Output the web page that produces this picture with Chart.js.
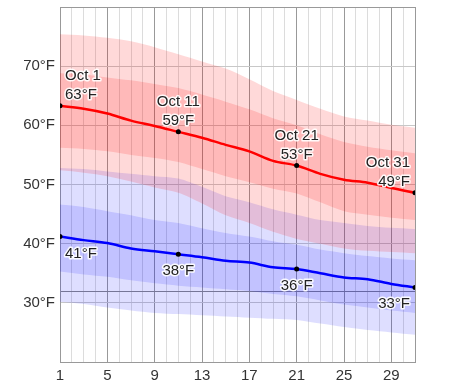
<!DOCTYPE html>
<html lang="en">
<head>
<meta charset="UTF-8">
<title>October temperatures</title>
<script src="https://cdn.jsdelivr.net/npm/chart.js"></script>
<style>
    body { margin: 0; background: #fff; }
    #wrap { width: 474px; height: 389px; }
</style>
</head>
<body>
<div id="wrap"><canvas id="grafico" width="474" height="389"></canvas></div>
<script>
// days of October that the values below were read at
const days = [1, 3, 5, 7, 9, 11, 13, 15, 17, 19, 21, 23, 25, 27, 29, 31];

// average daily high / low (°F)
const highAvg = [63.3, 62.8, 62.0, 60.8, 59.9, 58.9, 57.9, 56.7, 55.6, 54.0, 53.2, 51.8, 50.8, 50.3, 49.4, 48.6];
const lowAvg  = [41.2, 40.6, 40.1, 39.2, 38.7, 38.2, 37.7, 37.1, 36.8, 36.0, 35.7, 35.0, 34.3, 34.0, 33.2, 32.6];

// percentile bands of the daily high
const high90 = [75.4, 75.2, 74.8, 74.2, 73.2, 72.0, 70.8, 69.6, 67.8, 65.8, 64.3, 62.8, 61.5, 60.8, 60.1, 59.6];
const high75 = [68.8, 68.6, 68.1, 67.6, 67.0, 66.3, 65.2, 64.0, 62.7, 61.2, 60.0, 58.5, 57.2, 56.4, 55.8, 55.3];
const high25 = [56.2, 56.0, 55.6, 55.0, 54.5, 53.8, 52.6, 51.4, 50.4, 49.3, 48.5, 47.0, 45.5, 44.9, 44.4, 44.0];
const high10 = [52.4, 52.0, 51.4, 50.5, 49.5, 48.6, 46.8, 44.8, 43.5, 42.0, 40.8, 40.0, 39.2, 38.8, 38.6, 38.4];

// percentile bands of the daily low
const low90 = [52.8, 52.6, 52.2, 51.8, 51.4, 51.0, 49.6, 48.0, 47.0, 45.8, 44.9, 44.0, 43.5, 43.0, 42.7, 42.5];
const low75 = [46.6, 46.2, 45.5, 44.8, 44.0, 43.5, 42.6, 41.8, 41.2, 40.4, 39.8, 39.0, 38.4, 37.9, 37.5, 37.2];
const low25 = [35.3, 34.8, 34.4, 33.8, 33.3, 32.9, 32.6, 32.3, 32.0, 31.5, 31.1, 30.4, 29.7, 29.2, 28.7, 28.3];
const low10 = [30.2, 29.8, 29.2, 28.7, 28.3, 28.1, 27.9, 27.7, 27.5, 27.3, 27.1, 26.5, 25.9, 25.4, 25.0, 24.6];

// axis
const xTicks = [1, 5, 9, 13, 17, 21, 25, 29];
const yTicks = [30, 40, 50, 60, 70];
const freezing = 32;
const labelDays = [1, 11, 21, 31];
const monthName = 'Oct';

const FONT = '"Liberation Sans", Arial, sans-serif';

function pontos(valores) {
    return days.map((d, i) => ({ x: d, y: valores[i] }));
}

function raioPonto(ctx) {
    if (!ctx.raw) return 0;
    return labelDays.includes(ctx.raw.x) ? 2.5 : 0;
}

function faixa(valores, fill, cor) {
    return {
        data: pontos(valores),
        borderWidth: 0,
        pointRadius: 0,
        fill: fill,
        backgroundColor: cor,
        tension: 0.3
    };
}

const redBand = 'rgba(255, 0, 0, 0.15)';
const blueBand = 'rgba(0, 0, 255, 0.13)';

const rotulos = {
    id: 'rotulos',
    afterDatasetsDraw(chart) {
        const ctx = chart.ctx;
        const xs = chart.scales.x;
        const ys = chart.scales.y;
        ctx.save();
        ctx.font = '15px ' + FONT;
        ctx.lineJoin = 'round';
        ctx.textBaseline = 'alphabetic';

        function texto(t, x, y) {
            ctx.strokeStyle = 'rgba(255,255,255,0.9)';
            ctx.lineWidth = 3;
            ctx.strokeText(t, x, y);
            ctx.fillStyle = '#222';
            ctx.fillText(t, x, y);
        }

        labelDays.forEach((dia, n) => {
            const i = days.indexOf(dia);
            let px = xs.getPixelForValue(dia);
            if (n === 0) { ctx.textAlign = 'left'; px += 5; }
            else if (n === labelDays.length - 1) { ctx.textAlign = 'right'; px -= 5; }
            else { ctx.textAlign = 'center'; }

            const pyH = ys.getPixelForValue(highAvg[i]);
            texto(Math.round(highAvg[i]) + '°F', px, pyH - 7);
            texto(monthName + ' ' + dia, px, pyH - 26);

            const pyL = ys.getPixelForValue(lowAvg[i]);
            texto(Math.round(lowAvg[i]) + '°F', px, pyL + 21);
        });
        ctx.restore();
    }
};

new Chart(document.getElementById('grafico'), {
    type: 'line',
    data: {
        datasets: [
            {
                data: pontos(highAvg),
                borderColor: '#f00',
                borderWidth: 2.5,
                pointRadius: raioPonto,
                pointBackgroundColor: '#000',
                pointBorderWidth: 0,
                fill: false,
                cubicInterpolationMode: 'monotone'
            },
            {
                data: pontos(lowAvg),
                borderColor: '#00f',
                borderWidth: 2.5,
                pointRadius: raioPonto,
                pointBackgroundColor: '#000',
                pointBorderWidth: 0,
                fill: false,
                cubicInterpolationMode: 'monotone'
            },
            faixa(high90, 3, redBand),
            faixa(high10, false, redBand),
            faixa(high75, 5, redBand),
            faixa(high25, false, redBand),
            faixa(low90, 7, blueBand),
            faixa(low10, false, blueBand),
            faixa(low75, 9, blueBand),
            faixa(low25, false, blueBand)
        ]
    },
    options: {
        responsive: false,
        animation: false,
        devicePixelRatio: 1,
        layout: { padding: { top: 7, right: 59, left: 0, bottom: 0 } },
        plugins: {
            legend: { display: false },
            tooltip: { enabled: false }
        },
        scales: {
            x: {
                type: 'linear',
                min: 1,
                max: 31,
                afterBuildTicks(scale) {
                    scale.ticks = days.concat(days.map(d => d + 1).filter(d => d < 31)).sort((a, b) => a - b).map(v => ({ value: v }));
                },
                afterFit(scale) {
                    scale.height = 27;
                    scale.paddingLeft = 0;
                    scale.paddingRight = 0;
                },
                border: { display: true, color: '#999', width: 1 },
                grid: {
                    drawTicks: false,
                    color(ctx) {
                        const v = ctx.tick ? ctx.tick.value : 0;
                        return (xTicks.includes(v) || v === 31) ? '#999' : '#dcdcdc';
                    }
                },
                ticks: {
                    autoSkip: false,
                    maxRotation: 0,
                    padding: 5,
                    color: '#333',
                    font: { size: 15, family: FONT },
                    callback: v => xTicks.includes(v) ? String(v) : ''
                }
            },
            y: {
                min: 20,
                max: 80,
                afterBuildTicks(scale) {
                    scale.ticks = [20, 30, freezing, 40, 50, 60, 70, 80].map(v => ({ value: v }));
                },
                afterFit(scale) {
                    scale.width = 60;
                    scale.paddingTop = 0;
                    scale.paddingBottom = 0;
                },
                border: { display: true, color: '#999', width: 1 },
                grid: {
                    drawTicks: false,
                    color(ctx) {
                        const v = ctx.tick ? ctx.tick.value : 0;
                        if (v === freezing) return '#888';
                        if (v === 80 || v === 20) return '#999';
                        return '#c8c8c8';
                    }
                },
                ticks: {
                    padding: 5,
                    color: '#333',
                    font: { size: 15, family: FONT },
                    callback: v => yTicks.includes(v) ? v + '°F' : ''
                }
            }
        }
    },
    plugins: [rotulos]
});
</script>
</body>
</html>
